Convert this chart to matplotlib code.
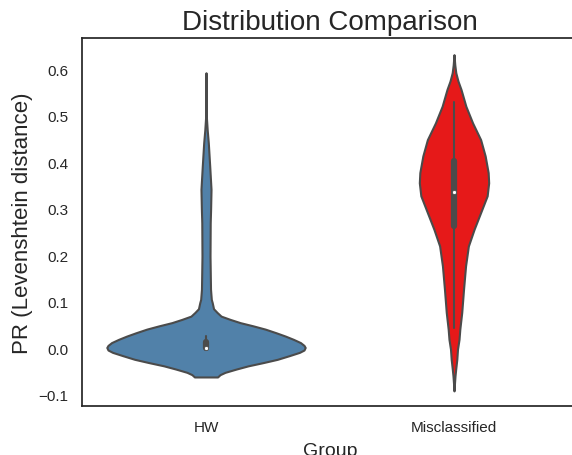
import matplotlib
matplotlib.use("Agg")
import matplotlib.pyplot as plt
import numpy as np
import seaborn as sns
import colorsys

# ---- data ----
groups = ["HW", "Misclassified"]
base_colors = ["steelblue", "red"]

# density profiles (arbitrary units, shared scale) along the value axis
hw_y = [0.593, 0.55, 0.50, 0.47, 0.442, 0.392, 0.342, 0.30, 0.270, 0.198, 0.127,
        0.105, 0.098, 0.085, 0.077, 0.069, 0.062, 0.055, 0.048, 0.041, 0.033,
        0.026, 0.019, 0.012, 0.006, 0.0015, -0.004, -0.009, -0.016, -0.024,
        -0.031, -0.038, -0.045, -0.052, -0.057, -0.062]
hw_density = [0, 0.1, 0.3, 1.2, 2.3, 3.7, 5.0, 4.6, 4.2, 4.0, 4.5,
              5.3, 6.2, 7.5, 11, 15, 24, 34, 47, 59, 70,
              79, 87, 94, 97.5, 98.7, 97.5, 93, 83, 71,
              57, 42, 30, 19, 14, 11.5]

mis_y = [0.632, 0.61, 0.593, 0.575, 0.557, 0.521, 0.485, 0.449, 0.414, 0.378,
         0.356, 0.328, 0.292, 0.256, 0.22, 0.177, 0.127, 0.077, 0.041, 0.019,
         -0.002, -0.024, -0.045, -0.06, -0.075, -0.092]
mis_density = [0, 0.8, 1.8, 4, 7, 11.8, 18.5, 26.5, 31, 34,
               34.5, 33, 26.5, 20, 14.3, 11.5, 9.5, 7.7, 5.8, 5.0,
               3.5, 2.8, 1.7, 1.0, 0.5, 0]

# box statistics: lower whisker, q1, median, q3, upper whisker
hw_stats = [0.0, 0.001, 0.0, 0.014, 0.026]
mis_stats = [0.043, 0.262, 0.337, 0.404, 0.529]

profiles_y = [hw_y, mis_y]
profiles_d = [hw_density, mis_density]
stats = [hw_stats, mis_stats]

title = "Distribution Comparison"
xlabel = "Group"
ylabel = "PR (Levenshtein distance)"
yticks = [-0.1, 0.0, 0.1, 0.2, 0.3, 0.4, 0.5, 0.6]

# ---- style ----
sns.set_theme(style="white")
plt.rcParams["font.family"] = ["Liberation Sans", "DejaVu Sans"]

fig = plt.figure(figsize=(5.72, 4.56), dpi=100)
ax = fig.add_axes([82 / 572, 49 / 456, 496 / 572, 368.3 / 456])

colors = [sns.desaturate(c, 0.8) for c in base_colors]
lum = min(colorsys.rgb_to_hls(*c)[1] for c in colors) * 0.6
gray = (lum, lum, lum)

dmax = max(max(d) for d in profiles_d)
width = 0.8

for i, (yv, dv, st, col) in enumerate(zip(profiles_y, profiles_d, stats, colors)):
    yv = np.asarray(yv, float)
    half = np.asarray(dv, float) / dmax * width / 2
    ax.fill_betweenx(yv, i - half, i + half, facecolor=col, edgecolor=gray,
                     linewidth=1.5, zorder=1)
    lo, q1, med, q3, hi = st
    ax.plot([i, i], [lo, hi], color=gray, linewidth=1.5, zorder=2)
    ax.plot([i, i], [q1, q3], color=gray, linewidth=4.5, zorder=2)
    ax.scatter([i], [med], s=9, color="white", edgecolor=gray, linewidth=0.6, zorder=3)

ax.set_xlim(-0.5, 1.5)
ax.set_ylim(-0.1245, 0.6685)
ax.set_xticks(range(len(groups)))
ax.set_xticklabels(groups)
ax.set_yticks(yticks)
ax.tick_params(axis="both", labelsize=11, pad=4)
ax.set_title(title, fontsize=20)
ax.set_xlabel(xlabel, fontsize=14, labelpad=6)
ax.set_ylabel(ylabel, fontsize=16)

fig.savefig("out.png", dpi=100)
